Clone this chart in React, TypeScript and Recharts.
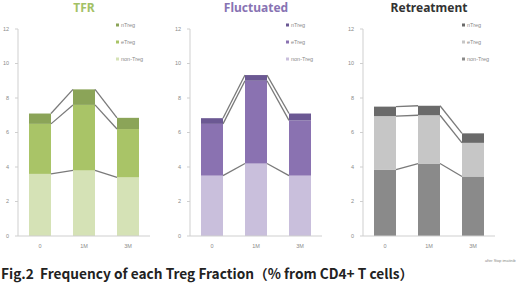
import React from 'react';
import { BarChart, Bar, XAxis, YAxis } from 'recharts';

const months = ['0', '1M', '3M'];
const seriesNames = ['non-Treg', 'eTreg', 'nTreg'];
const yTicks = [0, 2, 4, 6, 8, 10, 12];

// TFR
const tfrNon = [3.6, 3.8, 3.4];
const tfrE = [2.9, 3.8, 2.8];
const tfrN = [0.6, 0.9, 0.65];

// Fluctuated
const flNon = [3.5, 4.2, 3.5];
const flE = [3.0, 4.8, 3.2];
const flN = [0.33, 0.33, 0.4];

// Retreatment
const reNon = [3.85, 4.2, 3.45];
const reE = [3.1, 2.8, 1.95];
const reN = [0.55, 0.55, 0.55];

const keys = ['non', 'e', 'n'];

type Row = { month: string; non: number; e: number; n: number };

const buildRows = (non: number[], e: number[], n: number[]): Row[] =>
  months.map((m, i) => ({ month: m, non: non[i], e: e[i], n: n[i] }));

const cumTop = (row: any, k: number) => {
  let s = 0;
  for (let j = 0; j <= k; j++) s += row[keys[j]];
  return s;
};

// bar segment + excel-like series line to next bar
const makeShape = (rows: Row[], k: number, fill: string) => (props: any) => {
  const { x, y, width, height, index } = props;
  const row: any = rows[index];
  const top = cumTop(row, k);
  const ppu = height / row[keys[k]];
  let line = null;
  if (index < rows.length - 1) {
    const nextTop = cumTop(rows[index + 1], k);
    const y2 = y + (top - nextTop) * ppu;
    line = (
      <line x1={x + width} y1={y} x2={x + 2 * width} y2={y2} stroke="#7a7a7a" strokeWidth={1.3} />
    );
  }
  return (
    <g>
      <rect x={x} y={y} width={width} height={height} fill={fill} />
      {line}
    </g>
  );
};

type PanelProps = {
  title: string;
  titleColor: string;
  rows: Row[];
  colors: string[];
  left: number;
  legendX: number;
};

const tickStyle = { fontSize: 5.5, fill: '#8a8a8a', fontFamily: 'Liberation Sans' };

const Panel = ({ title, titleColor, rows, colors, left, legendX }: PanelProps) => (
  <div style={{ position: 'absolute', left, top: 0, width: 170, height: 260 }}>
    <div
      style={{
        position: 'absolute', left: 0, top: 0, width: 168, textAlign: 'center',
        fontFamily: 'Noto Sans', fontWeight: 'bold', fontSize: 12, lineHeight: '16px', color: titleColor,
      }}
    >
      {title}
    </div>
    <BarChart
      width={170}
      height={260}
      data={rows}
      margin={{ top: 29, right: 20, bottom: 4, left: 2 }}
      barCategoryGap="25%"
    >
      <YAxis
        width={16}
        domain={[0, 12]}
        ticks={yTicks}
        interval={0}
        tick={tickStyle}
        tickSize={3}
        tickMargin={6}
        stroke="#cfcfcf"
      />
      <XAxis
        dataKey="month"
        height={20}
        tick={tickStyle}
        tickLine={false}
        tickSize={3}
        tickMargin={5}
        stroke="#cfcfcf"
      />
      {keys.map((k, i) => (
        <Bar
          key={k}
          dataKey={k}
          stackId="a"
          fill={colors[i]}
          isAnimationActive={false}
          shape={makeShape(rows, i, colors[i])}
        />
      ))}
    </BarChart>
    <svg style={{ position: 'absolute', left: legendX, top: 20 }} width={50} height={45}>
      {[2, 1, 0].map((si, j) => (
        <g key={si}>
          <rect x={0} y={3.5 + j * 17} width={3} height={3} fill={colors[si]} />
          <text x={5} y={7 + j * 17} fontSize={5.5} fill="#8a8a8a" fontFamily="Liberation Sans">
            {seriesNames[si]}
          </text>
        </g>
      ))}
    </svg>
  </div>
);

export default function App() {
  return (
    <div
      style={{
        position: 'absolute', left: 0, top: 0, width: 520, height: 283,
        background: '#fff', overflow: 'hidden',
      }}
    >
      <Panel
        title="TFR"
        titleColor="#a3c165"
        rows={buildRows(tfrNon, tfrE, tfrN)}
        colors={['#d5e2b6', '#a9c467', '#8ba458']}
        left={0}
        legendX={116}
      />
      <Panel
        title="Fluctuated"
        titleColor="#8873b3"
        rows={buildRows(flNon, flE, flN)}
        colors={['#c9bfdc', '#8a72b1', '#6b5893']}
        left={172}
        legendX={114}
      />
      <Panel
        title="Retreatment"
        titleColor="#333333"
        rows={buildRows(reNon, reE, reN)}
        colors={['#8a8a8a', '#c6c6c6', '#6a6a6a']}
        left={345}
        legendX={117}
      />
      <svg style={{ position: 'absolute', left: 0, top: 0 }} width={520} height={283}>
        <text x={485} y={262} fontSize={3.8} fill="#888" fontFamily="Liberation Sans">
          after Stop imatinib
        </text>
      </svg>
      <div
        style={{
          position: 'absolute', left: 1, top: 264, whiteSpace: 'nowrap',
          fontFamily: 'Noto Sans CJK JP', fontWeight: 'bold', fontSize: 13.7, lineHeight: '18px', color: '#222',
        }}
      >
        Fig.2&nbsp; Frequency of each Treg Fraction（% from CD4+ T cells）
      </div>
    </div>
  );
}
